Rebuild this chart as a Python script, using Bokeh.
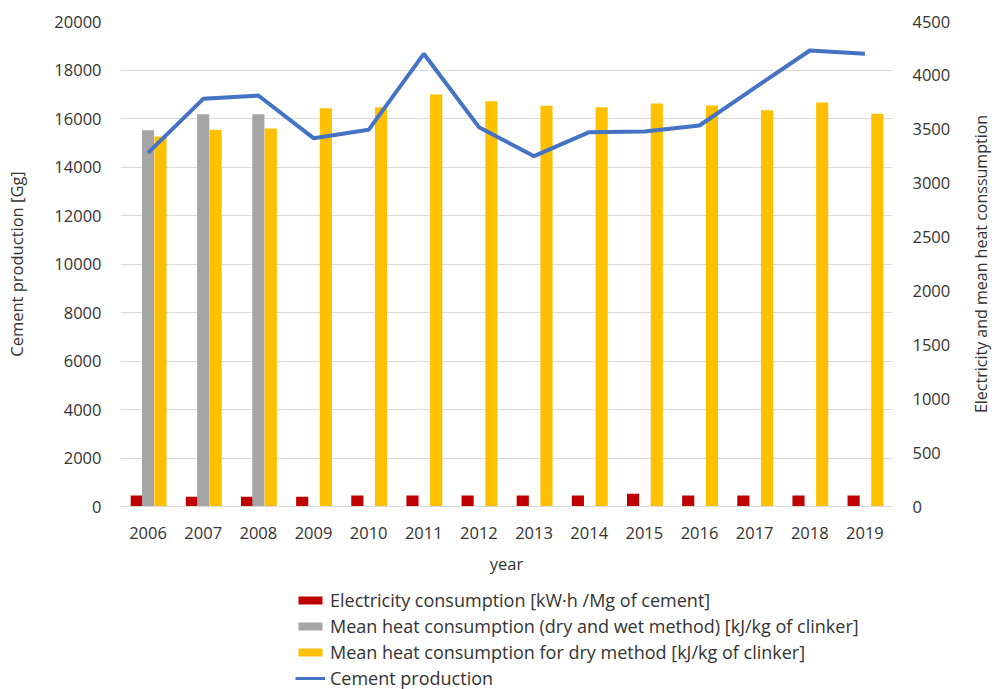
import math
from bokeh.plotting import figure
from bokeh.layouts import column, row
from bokeh.models import (Range1d, LinearAxis, FactorRange, Legend, LegendItem, ColumnDataSource,
                          FixedTicker, Label)
from bokeh.transform import dodge
from bokeh.embed import file_html
from bokeh.resources import INLINE

years = [str(y) for y in range(2006, 2020)]
cement_production = [14585, 16811, 16948, 15189, 15533, 18667, 15643, 14447, 15436, 15464, 15711, 17265, 18804, 18667]
electricity = [102, 90, 90, 90, 102, 102, 102, 102, 102, 118, 102, 102, 102, 102]
heat_mixed_years = ["2006", "2007", "2008"]
heat_mixed = [3491, 3640, 3640]
heat_dry = [3433, 3495, 3507, 3695, 3705, 3823, 3760, 3718, 3705, 3739, 3720, 3677, 3748, 3643]
left_ticks = list(range(0, 20001, 2000))
right_ticks = list(range(0, 4501, 500))
left_title = "Cement production [Gg]"
right_title = "Electricity and mean heat conssumption"
x_title = "year"
legend_labels = [
    "Electricity consumption [kW\u00b7h /Mg of cement]",
    "Mean heat consumption (dry and wet method) [kJ/kg of clinker]",
    "Mean heat consumption for dry method [kJ/kg of clinker]",
    "Cement production",
]

FONT = "Open Sans"
TXT = "#333333"
RED, GRAY, YEL, BLUE = "#C00000", "#A5A5A5", "#FFC000", "#4472C4"

src = ColumnDataSource(dict(year=years, prod=cement_production, elec=electricity, dry=heat_dry))
src_mixed = ColumnDataSource(dict(year=heat_mixed_years, mixed=heat_mixed))

p = figure(frame_width=772, frame_height=485, x_range=FactorRange(*years), y_range=Range1d(0, 20000),
           output_backend="svg", toolbar_location=None,
           min_border_left=120, min_border_right=76, min_border_top=21, min_border_bottom=76)
p.extra_y_ranges = {"right": Range1d(0, 4500)}
p.outline_line_color = None
p.xgrid.grid_line_color = None
p.ygrid.grid_line_color = "#D9D9D9"
p.ygrid.ticker = FixedTicker(ticks=left_ticks)

W = 0.22
r_red = p.vbar(x=dodge("year", -0.205, range=p.x_range), top="elec", width=W, source=src,
               y_range_name="right", color=RED, line_color=None)
r_gray = p.vbar(x=dodge("year", 0.0, range=p.x_range), top="mixed", width=W, source=src_mixed,
                y_range_name="right", color=GRAY, line_color=None)
r_yel = p.vbar(x=dodge("year", 0.225, range=p.x_range), top="dry", width=W, source=src,
               y_range_name="right", color=YEL, line_color=None)
r_line = p.line(x="year", y="prod", source=src, line_width=4, color=BLUE)

ya = p.yaxis[0]
ya.ticker = FixedTicker(ticks=left_ticks)
ya.axis_label = left_title
ya.axis_line_color = None
ya.major_tick_line_color = None
ya.minor_tick_line_color = None
ya.major_tick_out = 0
ya.major_label_standoff = 19
ya.axis_label_standoff = 23

ra = LinearAxis(y_range_name="right", ticker=FixedTicker(ticks=right_ticks))
ra.axis_line_color = None
ra.major_tick_line_color = None
ra.minor_tick_line_color = None
ra.major_tick_out = 0
ra.major_label_standoff = 20
p.add_layout(ra, "right")

xa = p.xaxis[0]
xa.axis_label = x_title
xa.axis_line_color = "#D9D9D9"
xa.major_tick_line_color = None
xa.minor_tick_line_color = None
xa.major_tick_out = 0
xa.major_label_standoff = 20
xa.axis_label_standoff = 10

for ax in (ya, ra, xa):
    ax.major_label_text_font = FONT
    ax.major_label_text_font_size = "16.5px"
    ax.major_label_text_color = TXT
    ax.axis_label_text_font = FONT
    ax.axis_label_text_font_size = "16.5px"
    ax.axis_label_text_font_style = "normal"
    ax.axis_label_text_color = TXT

# narrow strip on the right holding the right axis title (reads bottom-to-top)
rfig = figure(width=24, frame_width=24, frame_height=485, x_range=Range1d(0, 1), y_range=Range1d(0, 1),
              output_backend="svg", toolbar_location=None, x_axis_type=None, y_axis_type=None,
              min_border_left=0, min_border_right=0, min_border_top=21, min_border_bottom=76)
rfig.outline_line_color = None
rfig.grid.grid_line_color = None
rfig.add_layout(Label(x=0.5, y=0.5, text=right_title, angle=math.pi / 2,
                      text_align="center", text_baseline="middle",
                      text_font=FONT, text_font_size="16px", text_color=TXT))

# legend strip underneath
q = figure(frame_width=772, frame_height=107, x_range=Range1d(0, 1), y_range=Range1d(0, 1),
           output_backend="svg", toolbar_location=None, x_axis_type=None, y_axis_type=None,
           min_border_left=120, min_border_right=100, min_border_top=0, min_border_bottom=0)
q.outline_line_color = None
q.grid.grid_line_color = None
l_red = q.vbar(x=[5], top=[5], bottom=[4], width=0.1, color=RED, line_color=None)
l_gray = q.vbar(x=[5], top=[5], bottom=[4], width=0.1, color=GRAY, line_color=None)
l_yel = q.vbar(x=[5], top=[5], bottom=[4], width=0.1, color=YEL, line_color=None)
l_line = q.line(x=[5, 6], y=[5, 5], line_width=3, color=BLUE)

legend = Legend(items=[LegendItem(label=t, renderers=[r]) for t, r in
                       zip(legend_labels, [l_red, l_gray, l_yel, l_line])],
                location=(175, -1))
legend.padding = 0
legend.margin = 0
legend.border_line_color = None
legend.background_fill_alpha = 0
legend.glyph_width = 30
legend.glyph_height = 10
legend.label_height = 22
legend.spacing = 2
legend.label_standoff = 5
legend.label_text_font = FONT
legend.label_text_font_size = "18px"
legend.label_text_color = TXT
q.add_layout(legend, "center")

layout = column(row(p, rfig, spacing=0), q, spacing=0)
open("out.html", "w").write(file_html(layout, INLINE))
